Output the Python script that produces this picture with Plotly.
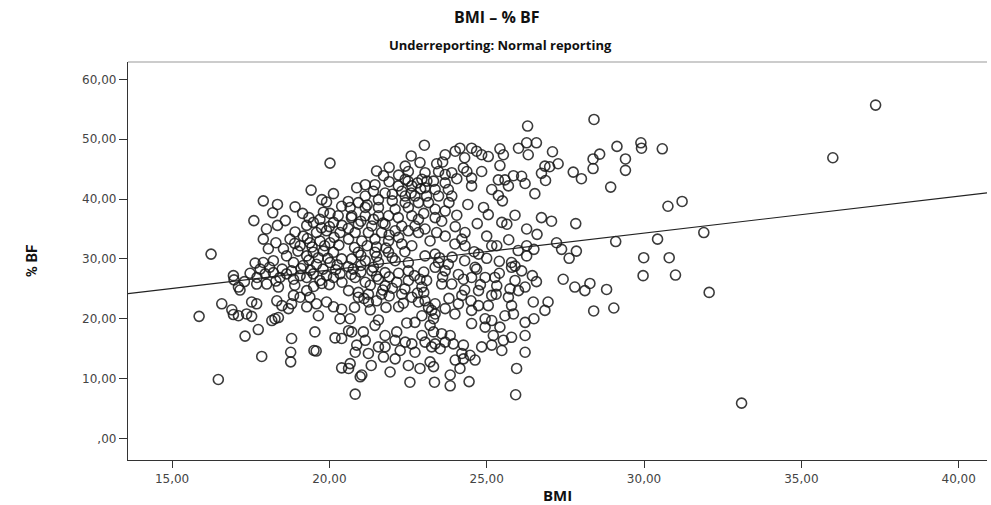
import plotly.graph_objects as go

# ---- data (BMI, %BF), grouped by region ----
bmi_1 = [20.02,19.42,20.13,17.90,18.35,18.91,19.15,19.76,19.91,19.81,20.02,20.39,18.35,19.28,18.91,19.49,19.70,20.13,20.28,17.90,18.75,19.17,19.59,19.91,20.34,18.06,18.54,19.07,19.38,19.70,20.02,16.24,17.64,17.90,18.22,18.64,18.86,19.28,19.49,19.81,20.13,19.17,19.59,20.02,20.39]
bf_1 = [46.0,41.5,40.9,39.7,39.1,38.7,37.6,39.9,39.5,37.8,37.6,38.8,35.6,35.6,34.5,36.1,36.6,36.1,37.2,33.3,33.3,33.8,34.4,34.7,34.4,31.7,31.7,32.2,32.7,33.0,32.7,30.8,29.3,29.4,29.7,30.5,29.4,30.5,31.1,31.3,31.1,28.9,29.1,29.4,30.0]

bmi_2 = [23.02,26.30,23.68,24.00,24.15,24.52,24.68,24.84,25.05,25.42,25.53,26.01,26.27,26.32,22.88,22.41,22.51,23.04,23.41,23.47,23.68,23.89,24.26,24.37,24.84,25.42,24.52,24.52,25.16,25.37,25.58,25.69,25.85,26.11,26.22,25.37,24.05,23.68,23.31,22.94,21.72,22.41,22.19,22.62,23.04,23.36,23.78,23.89,23.47,23.09,22.72,22.41,22.00,21.77,21.45,21.14,20.87,21.40,21.14,21.56,22.00,22.41,22.83,23.15,20.92,20.66,21.14,21.56,22.09,22.51,23.36,23.68,24.05,23.36,23.57,22.62,22.83,22.19,21.88,21.56,21.14,20.71,25.05,25.48,25.64,26.27,20.92,21.35,21.77,22.30,22.72,23.04,22.83,22.51,22.09,21.66,21.24,20.82,23.41,23.68,24.31,24.21,20.61,21.03,21.45,21.88,22.30,22.62,23.99,24.31,25.16,25.32,24.74,23.36,23.04,21.88,21.45,20.92,20.71,21.14,21.56,22.09,22.51,23.47,23.78,24.63,25.79,25.90,26.27,26.27]
bf_2 = [49.0,52.2,47.4,48.0,48.5,48.5,48.0,47.4,47.1,48.4,47.4,48.5,49.4,47.4,46.1,45.5,44.6,44.4,45.9,44.6,44.1,44.4,45.2,44.6,44.6,45.6,43.5,42.2,41.6,43.2,43.2,42.2,43.9,43.8,42.6,40.6,43.4,42.7,43.0,43.3,43.9,43.3,42.2,42.2,41.9,41.6,41.6,40.5,40.5,40.5,40.5,40.5,40.8,41.0,42.4,42.4,41.9,41.3,40.5,39.9,39.7,39.4,39.4,39.4,39.4,38.6,38.6,38.6,38.3,38.6,38.3,38.0,37.3,36.9,36.3,37.2,36.6,36.9,37.2,37.2,37.2,37.2,37.4,36.1,35.8,35.0,35.8,35.5,35.8,35.5,35.5,35.0,34.4,34.7,34.7,34.4,34.4,34.4,34.4,33.8,34.4,33.3,33.3,33.0,33.3,33.0,32.5,32.2,32.5,32.2,32.2,32.2,30.8,30.8,30.5,31.1,31.1,31.1,30.0,29.7,29.4,29.7,29.4,29.4,29.1,28.6,29.4,28.8,32.2,30.5]

bmi_3 = [28.41,26.58,27.09,28.59,28.38,29.14,29.90,29.92,30.58,29.41,29.41,28.38,27.27,27.00,26.85,26.74,26.87,27.75,28.01,28.94,26.53,30.76,31.21,26.74,27.06,27.83,26.60,27.22,26.50,27.38,27.85,27.62,29.10,30.43,31.90,29.99,30.80,36.0,37.36,33.1]
bf_3 = [53.3,49.4,47.9,47.5,46.7,48.8,49.4,48.5,48.4,46.7,44.8,45.1,45.9,45.4,45.5,44.3,43.1,44.5,43.4,42.0,40.9,38.8,39.6,36.9,36.3,35.9,34.1,32.7,31.6,31.6,31.3,30.1,32.9,33.3,34.4,30.2,30.2,46.9,55.7,5.9]

bmi_4 = [15.86,16.47,16.95,16.97,17.11,17.16,17.48,17.69,18.01,18.38,17.96,18.22,18.43,18.64,18.86,19.07,19.28,19.49,19.70,19.91,20.13,20.34,19.76,19.28,18.86,19.07,19.38,18.80,18.33,18.49,18.70,19.28,19.59,19.91,20.13,20.39,19.65,20.34,16.58,16.90,16.95,17.11,17.37,17.53,17.53,17.69,18.17,18.27,18.38,17.74,17.32,17.85,18.80,18.77,18.77,19.54,19.51,19.58,20.18,20.39,20.39]
bf_4 = [20.4,9.85,27.2,26.5,25.3,24.8,27.6,25.8,25.8,25.3,27.5,27.7,26.9,27.5,26.6,27.2,26.9,27.5,26.4,27.2,26.9,27.5,25.9,24.7,23.9,23.6,23.6,22.5,23.0,22.2,21.7,22.0,22.5,22.8,22.0,21.6,20.5,20.0,22.5,21.5,20.7,20.5,20.8,20.4,22.8,22.5,19.7,20.0,20.2,18.2,17.1,13.7,16.7,14.4,12.8,17.8,14.7,14.6,16.8,16.7,11.8]

bmi_5 = [20.82,25.92,25.95,22.56,23.34,23.84,24.44,20.98,21.03,20.61,21.33,21.93,22.51,22.88,23.31,23.84,24.15,24.26,24.63,24.00,20.66,20.82,20.87,21.24,21.72,22.09,22.25,22.62,21.77,22.72,23.20,23.25,23.52,23.36,23.04,23.68,23.94,24.26,24.21,24.47,24.84,25.16,25.48,25.53,25.21,25.79,26.22,22.09,22.41,21.77,22.14,20.71,21.08,21.45,21.56,22.46,22.94,23.31,23.57,23.84,23.20,23.31,23.36,22.94,23.25,22.83,22.35,22.62,23.04,23.36,23.68,23.99,24.10,24.52,24.74,25.05,24.52,24.95,24.95,25.16,25.42,25.58,25.85,26.22,25.79,26.22,20.66,20.61,20.92,21.24,21.66,21.24,21.77,22.14,22.51,22.88,23.09,23.57,23.89,24.26,24.52,24.95,25.26,25.32,24.74,24.21,25.16,25.69,25.74,26.01,26.22,20.82,21.14,21.56,20.61,20.92,20.76,21.35,21.77,22.51,23.36,23.68,24.68,25.79,26.11,22.94,23.15,22.72,21.14,21.56]
bf_5 = [7.4,7.3,11.7,9.4,9.4,8.8,9.5,10.3,10.6,11.7,12.2,11.1,12.2,11.7,12.0,10.6,11.7,13.3,13.1,13.1,12.5,14.4,15.6,14.2,13.6,13.3,14.7,15.8,15.3,14.4,12.8,15.3,15.0,15.8,16.1,16.1,15.8,15.6,14.2,13.9,15.3,15.6,14.7,16.4,17.2,16.9,14.4,16.4,16.1,17.2,17.8,17.8,17.8,18.9,19.8,19.3,17.2,17.8,17.5,17.2,18.9,20.0,20.8,20.5,21.4,22.8,22.6,23.6,23.0,22.5,21.7,20.8,22.5,21.4,22.2,22.2,19.2,20.0,18.6,19.7,18.6,20.5,20.8,17.2,22.2,19.4,20.0,18.0,23.6,24.1,24.1,22.8,25.5,26.1,26.4,26.6,26.4,25.8,25.8,26.6,26.9,26.9,26.9,25.5,24.7,23.9,23.9,23.6,25.0,24.7,25.3,26.9,26.1,26.6,24.7,24.4,28.3,28.0,27.7,28.0,28.6,28.0,28.3,28.6,28.0,25.3,21.9,19.4,16.4,15.3]

bmi_6 = [27.43,26.58,26.45,27.80,28.12,28.28,28.81,29.97,31.00,32.07,26.48,26.95,26.85,28.40,29.04,26.50]
bf_6 = [26.6,26.2,27.2,25.3,24.7,25.9,24.9,27.2,27.3,24.4,22.8,22.8,21.4,21.3,21.8,20.0]

# dense core (heavily overlapping rings, estimated)
bmi_7 = [19.35,19.65,19.95,20.25,19.45,19.85,20.30,19.30,20.15,19.75,20.40,19.35,20.00,19.00,18.90,18.30,18.00,18.60,18.20,17.60,
         20.60,21.00,21.40,20.80,21.20,21.50,20.60,21.00,21.40,20.70,21.20,20.60,21.50,21.00,21.80,21.90,21.70,22.20,22.40,22.00,
         22.30,22.60,22.90,22.50,22.80,23.10,21.90,22.20,
         17.80,18.10,18.50,18.80,19.10,19.40,19.80,20.20,18.30,18.90,19.50,20.00,20.40,17.30,17.70,
         20.70,21.00,21.50,21.90,22.20,22.70,23.00,21.30,21.70,22.00,22.40,22.80,21.10,21.50,21.90,22.30,20.80,21.30,21.80,22.20,
         23.50,23.90,24.30,24.60,25.00,25.40,25.00,24.70,24.00,23.20,23.00,23.80,24.40,24.90,25.50,25.90,26.00,25.70,
         23.60,24.10,24.30,24.80,25.40,25.90,23.00,23.80,25.30,24.50,
         21.90,22.60,23.60,24.30,21.50]
bf_7 = [29.8,30.2,30.1,29.0,32.0,32.2,32.3,33.4,33.6,35.2,35.6,36.9,35.4,31.3,32.6,32.7,35.0,36.4,37.7,36.4,
        28.7,28.9,28.6,31.9,32.2,32.0,35.1,36.3,36.6,36.9,39.0,39.6,30.4,30.6,31.8,34.0,36.0,33.6,31.2,30.2,
        41.3,41.0,41.7,43.0,42.7,43.0,42.9,44.0,
        28.3,28.6,28.3,28.0,28.4,28.1,28.3,28.2,26.3,25.6,25.4,25.7,26.1,26.2,26.9,
        27.4,27.8,27.1,27.0,27.6,27.2,27.8,25.6,24.8,25.1,25.0,24.3,23.4,23.0,23.8,24.1,21.9,21.5,21.9,22.0,
        30.2,30.3,29.7,31.2,30.1,29.6,33.8,35.9,35.4,33.0,37.6,39.4,39.1,38.6,39.7,37.3,31.4,33.2,
        27.0,27.4,24.8,25.7,27.6,26.4,24.4,23.4,24.1,23.0,
        45.3,47.2,46.2,46.9,44.7]

bmi = bmi_1 + bmi_2 + bmi_3 + bmi_4 + bmi_5 + bmi_6 + bmi_7
bf = bf_1 + bf_2 + bf_3 + bf_4 + bf_5 + bf_6 + bf_7

# fit line (intercept, slope)
fit_intercept = 15.8
fit_slope = 0.617

x_ticks = [15, 20, 25, 30, 35, 40]
x_ticktext = ["15,00", "20,00", "25,00", "30,00", "35,00", "40,00"]
y_ticks = [0, 10, 20, 30, 40, 50, 60]
y_ticktext = [",00", "10,00", "20,00", "30,00", "40,00", "50,00", "60,00"]

x_range = [13.6, 40.9]
y_range = [-3.6, 62.9]

fig = go.Figure()
fig.add_trace(go.Scatter(
    x=bmi, y=bf, mode="markers",
    marker=dict(symbol="circle-open", size=10, color="rgba(25,25,25,0.85)",
                line=dict(width=1.6, color="rgba(25,25,25,0.85)")),
    showlegend=False, hoverinfo="skip"))
fig.add_trace(go.Scatter(
    x=x_range, y=[fit_intercept + fit_slope * v for v in x_range],
    mode="lines", line=dict(color="#222", width=1.1),
    showlegend=False, hoverinfo="skip"))

tickfont = dict(family="DejaVu Sans", size=12, color="#444")
fig.update_layout(
    width=991, height=505,
    margin=dict(l=128, r=4, t=62, b=43),
    paper_bgcolor="white", plot_bgcolor="white",
    font=dict(family="DejaVu Sans", color="#111"),
    xaxis=dict(range=x_range, tickvals=x_ticks, ticktext=x_ticktext,
               showgrid=False, zeroline=False, showline=True,
               linecolor="#333", linewidth=1.3, ticks="outside",
               ticklen=7, tickcolor="#333", tickwidth=1.3, tickfont=tickfont,
               title=dict(text="<b>BMI</b>", font=dict(family="Open Sans", size=15, color="#111"), standoff=5)),
    yaxis=dict(range=y_range, tickvals=y_ticks, ticktext=y_ticktext,
               showgrid=False, zeroline=False, showline=True,
               linecolor="#333", linewidth=1.3, ticks="outside",
               ticklen=8, tickcolor="#333", tickwidth=1.3, tickfont=tickfont,
               title=dict(text="<b>% BF</b>", font=dict(family="Liberation Sans Narrow, Roboto", size=15, color="#111"), standoff=40)),
    shapes=[dict(type="line", xref="paper", yref="paper", x0=0, x1=1, y0=1, y1=1,
                 line=dict(color="#999", width=1))],
)
plot_w = 991 - 128 - 4
plot_h = 505 - 62 - 43
fig.add_annotation(text="<b>BMI – % BF</b>", xref="paper", yref="paper",
                   x=(497 - 128) / plot_w, y=1 + (62 - 17) / plot_h,
                   xanchor="center", yanchor="middle", showarrow=False,
                   font=dict(family="Open Sans", size=16, color="#111"))
fig.add_annotation(text="<b>Underreporting: Normal reporting</b>", xref="paper", yref="paper",
                   x=(500 - 128) / plot_w, y=1 + (62 - 45) / plot_h,
                   xanchor="center", yanchor="middle", showarrow=False,
                   font=dict(family="Open Sans", size=13, color="#111"))

fig.write_html("out.html")
